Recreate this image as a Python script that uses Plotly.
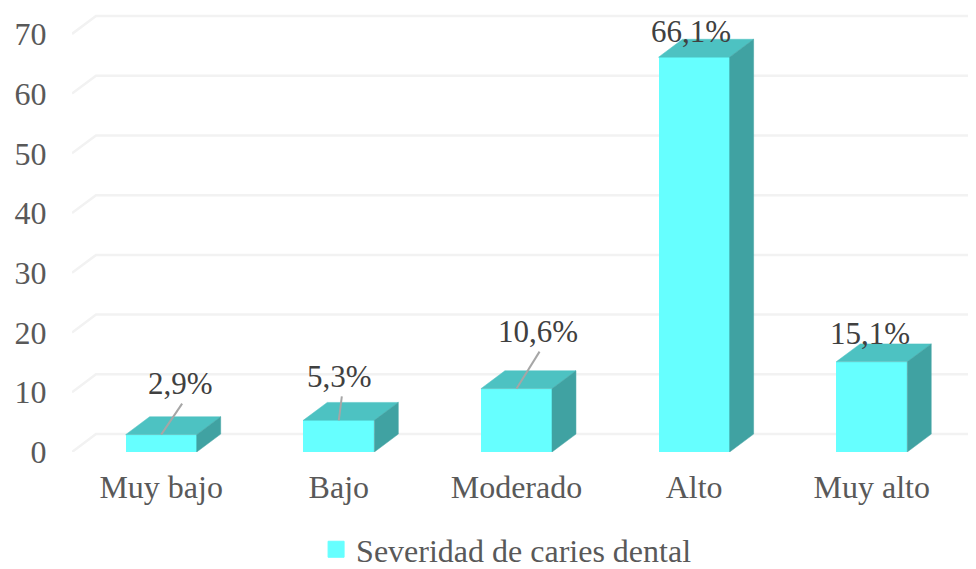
"""
Severidad de caries dental: Excel-style 3D column chart rebuilt in Plotly.
"""

import plotly.graph_objects as go

categories = ["Muy bajo", "Bajo", "Moderado", "Alto", "Muy alto"]
values = [2.9, 5.3, 10.6, 66.1, 15.1]
value_labels = ["2,9%", "5,3%", "10,6%", "66,1%", "15,1%"]
y_ticks = [0, 10, 20, 30, 40, 50, 60, 70]
series_name = "Severidad de caries dental"

# Label offsets from the bar top (pixels)
label_dx = [19, 1, 22, -3, -2]
label_dy = [51, 44, 57, 26, 28]

# Leader line ends relative to the bar top (data units), None for no leader
leader_dx = [0.118, 0.017, 0.13, None, None]
leader_dy = [5.2, 4.0, 6.2, None, None]

# Fake depth, in data units
BAR_WIDTH = 0.40
DEPTH_X = 0.135
DEPTH_Y = 3.0
X_RANGE = [-0.502, 4.587]
Y_RANGE = [0, 74]

FONT = "Liberation Serif"
FRONT = "#66FFFF"
TOP = "#4DC2C2"
SIDE = "#40A2A2"
GRID = "#F2F2F2"

positions = list(range(len(categories)))

fig = go.Figure()

# Front faces
fig.add_trace(go.Bar(
    x=positions,
    y=values,
    width=BAR_WIDTH,
    marker=dict(color=FRONT, line=dict(width=0)),
    showlegend=False,
    hoverinfo="skip"
))

# Top and side faces of each bar
half = BAR_WIDTH / 2
for pos, val in zip(positions, values):
    left, right = pos - half, pos + half
    fig.add_trace(go.Scatter(
        x=[left, right, right + DEPTH_X, left + DEPTH_X, left],
        y=[val, val, val + DEPTH_Y, val + DEPTH_Y, val],
        mode="lines",
        fill="toself",
        fillcolor=TOP,
        line=dict(color=TOP, width=0.5),
        showlegend=False,
        hoverinfo="skip"
    ))
    fig.add_trace(go.Scatter(
        x=[right, right + DEPTH_X, right + DEPTH_X, right, right],
        y=[0, DEPTH_Y, val + DEPTH_Y, val, 0],
        mode="lines",
        fill="toself",
        fillcolor=SIDE,
        line=dict(color=SIDE, width=0.5),
        showlegend=False,
        hoverinfo="skip"
    ))

# Leader lines
for pos, val, ldx, ldy in zip(positions, values, leader_dx, leader_dy):
    if ldx is None:
        continue
    fig.add_trace(go.Scatter(
        x=[pos, pos + ldx],
        y=[val, val + ldy],
        mode="lines",
        line=dict(color="#A6A6A6", width=2),
        showlegend=False,
        hoverinfo="skip"
    ))

# Legend entry
fig.add_trace(go.Scatter(
    x=[None],
    y=[None],
    mode="markers",
    name=series_name,
    marker=dict(symbol="square", size=16, color=FRONT, line=dict(color=FRONT, width=1))
))

# Gridlines run up the side wall, then across the back wall
for tick in y_ticks:
    fig.add_shape(
        type="path",
        path=(
            f"M {X_RANGE[0]} {tick} "
            f"L {X_RANGE[0] + DEPTH_X} {tick + DEPTH_Y} "
            f"L {X_RANGE[1]} {tick + DEPTH_Y}"
        ),
        xref="x",
        yref="y",
        line=dict(color=GRID, width=2.5),
        layer="below"
    )

# Data labels
for pos, val, text, dx, dy in zip(positions, values, value_labels, label_dx, label_dy):
    fig.add_annotation(
        x=pos,
        y=val,
        text=text,
        xshift=dx,
        yshift=dy,
        xanchor="center",
        yanchor="middle",
        showarrow=False,
        font=dict(family=FONT, size=31, color="#404040")
    )

# The page body adds an 8px margin. Height runs past the window so the legend
# has room and does not push the bottom margin up.
fig.update_layout(
    width=968,
    height=577,
    margin=dict(l=64, r=0, t=2, b=133),
    plot_bgcolor="white",
    paper_bgcolor="white",
    xaxis=dict(
        range=X_RANGE,
        tickvals=positions,
        ticktext=categories,
        showgrid=False,
        zeroline=False,
        showline=False,
        ticks="outside",
        ticklen=7,
        tickcolor="rgba(0,0,0,0)",
        tickfont=dict(family=FONT, size=32, color="#595959")
    ),
    yaxis=dict(
        range=Y_RANGE,
        tickvals=y_ticks,
        showgrid=False,
        zeroline=False,
        showline=False,
        ticks="outside",
        ticklen=18,
        tickcolor="rgba(0,0,0,0)",
        tickfont=dict(family=FONT, size=32, color="#595959")
    ),
    legend=dict(
        orientation="h",
        x=0.270,
        xanchor="left",
        y=-0.2205,
        yanchor="middle",
        bgcolor="rgba(0,0,0,0)",
        font=dict(family=FONT, size=32, color="#595959")
    ),
    bargap=0
)

fig.write_html("out.html")
